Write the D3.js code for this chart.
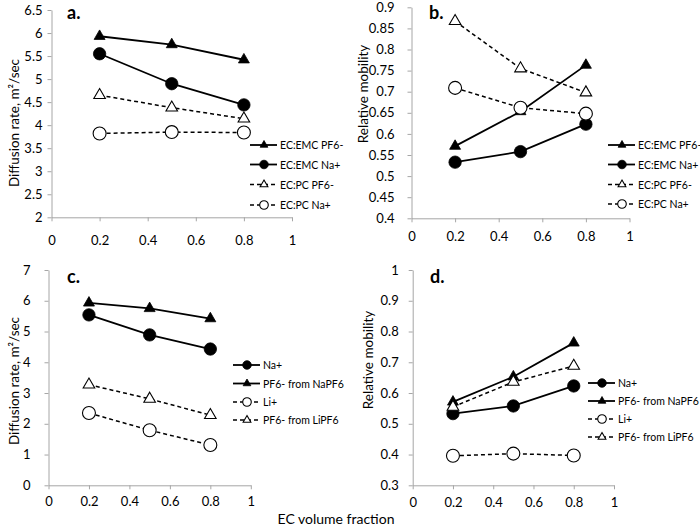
<!DOCTYPE html>
<html><head><meta charset="utf-8">
<script src="https://cdn.jsdelivr.net/npm/d3@7"></script>
<style>body{margin:0;background:#fff} text{font-family:Lato,"Open Sans",sans-serif;fill:#000}</style>
</head><body><svg id="c" width="700" height="527"></svg>
<script>
// ---------- data ----------
const xValues = [0.2, 0.5, 0.8];
const xTicks = [0, 0.2, 0.4, 0.6, 0.8, 1];
const xTickLabels = ["0", "0.2", "0.4", "0.6", "0.8", "1"];
const xTitle = "EC volume fraction";

// panel a
const aTicks = [2, 2.5, 3, 3.5, 4, 4.5, 5, 5.5, 6, 6.5];
const aTickLabels = ["2", "2.5", "3", "3.5", "4", "4.5", "5", "5.5", "6", "6.5"];
const aNames = ["EC:EMC PF6-", "EC:EMC Na+", "EC:PC PF6-", "EC:PC Na+"];
const aEmcPF6 = [5.93, 5.75, 5.42];
const aEmcNa = [5.55, 4.90, 4.44];
const aPcPF6 = [4.65, 4.38, 4.14];
const aPcNa = [3.82, 3.85, 3.84];

// panel b
const bTicks = [0.4, 0.45, 0.5, 0.55, 0.6, 0.65, 0.7, 0.75, 0.8, 0.85, 0.9];
const bTickLabels = ["0.4", "0.45", "0.5", "0.55", "0.6", "0.65", "0.7", "0.75", "0.8", "0.85", "0.9"];
const bNames = ["EC:EMC PF6-", "EC:EMC Na+", "EC:PC PF6-", "EC:PC Na+"];
const bEmcPF6 = [0.571, 0.653, 0.763];
const bEmcNa = [0.533, 0.558, 0.623];
const bPcPF6 = [0.867, 0.755, 0.698];
const bPcNa = [0.709, 0.662, 0.648];

// panel c
const cTicks = [0, 1, 2, 3, 4, 5, 6, 7];
const cTickLabels = ["0", "1", "2", "3", "4", "5", "6", "7"];
const cNames = ["Na+", "PF6- from NaPF6", "Li+", "PF6- from LiPF6"];
const cNa = [5.54, 4.89, 4.43];
const cPF6Na = [5.93, 5.75, 5.42];
const cLi = [2.35, 1.79, 1.31];
const cPF6Li = [3.27, 2.81, 2.28];

// panel d
const dTicks = [0.3, 0.4, 0.5, 0.6, 0.7, 0.8, 0.9, 1];
const dTickLabels = ["0.3", "0.4", "0.5", "0.6", "0.7", "0.8", "0.9", "1"];
const dNames = ["Na+", "PF6- from NaPF6", "Li+", "PF6- from LiPF6"];
const dNa = [0.533, 0.558, 0.623];
const dPF6Na = [0.571, 0.653, 0.763];
const dLi = [0.396, 0.403, 0.397];
const dPF6Li = [0.555, 0.636, 0.688];

// ---------- styles ----------
const ST = {
  solidTri: {shape: "tri", fill: true, dash: false},
  solidCirc: {shape: "circ", fill: true, dash: false},
  dashTri: {shape: "tri", fill: false, dash: true},
  dashCirc: {shape: "circ", fill: false, dash: true}
};

const panels = [
  {label: "a.", lx: 67, ly: 19, left: 51.5, right: 292, top: 10, bottom: 217.3,
   domain: [2, 6.5], ticks: aTicks, tickLabels: aTickLabels, yGap: 5, xOff: 22,
   ytitle: "Diffusion rate, m²/sec", tx: 14, ty: 123,
   series: [[aEmcPF6, ST.solidTri], [aEmcNa, ST.solidCirc], [aPcPF6, ST.dashTri], [aPcNa, ST.dashCirc]],
   names: aNames, legX: 250, legY: [145, 164.5, 184.5, 205]},
  {label: "b.", lx: 429, ly: 19, left: 411.5, right: 629.5, top: 7.3, bottom: 218.3,
   domain: [0.4, 0.9], ticks: bTicks, tickLabels: bTickLabels, yGap: 13, xOff: 17,
   ytitle: "Relative mobility", tx: 363, ty: 94,
   series: [[bEmcPF6, ST.solidTri], [bEmcNa, ST.solidCirc], [bPcPF6, ST.dashTri], [bPcNa, ST.dashCirc]],
   names: bNames, legX: 608, legY: [145, 164.5, 184.5, 204]},
  {label: "c.", lx: 67, ly: 283, left: 48.5, right: 250.8, top: 270, bottom: 485.3,
   domain: [0, 7], ticks: cTicks, tickLabels: cTickLabels, yGap: 14, xOff: 15.5,
   ytitle: "Diffusion rate, m²/sec", tx: 14, ty: 381,
   series: [[cNa, ST.solidCirc], [cPF6Na, ST.solidTri], [cLi, ST.dashCirc], [cPF6Li, ST.dashTri]],
   names: cNames, legX: 233, legY: [365, 383.5, 402, 420]},
  {label: "d.", lx: 430, ly: 283, left: 412.7, right: 614, top: 270, bottom: 485.3,
   domain: [0.3, 1], ticks: dTicks, tickLabels: dTickLabels, yGap: 10, xOff: 16.5,
   ytitle: "Relative mobility", tx: 368, ty: 360,
   series: [[dNa, ST.solidCirc], [dPF6Na, ST.solidTri], [dLi, ST.dashCirc], [dPF6Li, ST.dashTri]],
   names: dNames, legX: 588, legY: [383, 401, 419, 437]}
];

const svg = d3.select("#c");
const axisColor = "#a6a6a6";

function marker(sel, st, big) {
  const area = st.shape === "tri" ? (big ? (st.fill ? 52 : 58) : 26) : (big ? (st.fill ? 120 : 132) : 58);
  const type = st.shape === "tri" ? d3.symbolTriangle : d3.symbolCircle;
  sel.attr("d", d3.symbol().type(type).size(area))
    .attr("fill", st.fill ? "#000" : "#fff")
    .attr("stroke", "#000")
    .attr("stroke-width", st.fill ? 0.8 : 1.1);
}

panels.forEach(p => {
  const x = d3.scaleLinear().domain([0, 1]).range([p.left, p.right]);
  const y = d3.scaleLinear().domain(p.domain).range([p.bottom, p.top]);
  const g = svg.append("g");

  const ya = g.append("g").attr("transform", `translate(${p.left},0)`)
    .call(d3.axisLeft(y).tickValues(p.ticks).tickFormat((d, i) => p.tickLabels[i])
      .tickSize(4).tickSizeOuter(0).tickPadding(p.yGap));
  const xa = g.append("g").attr("transform", `translate(0,${p.bottom})`)
    .call(d3.axisBottom(x).tickValues(xTicks).tickFormat((d, i) => xTickLabels[i])
      .tickSize(4).tickSizeOuter(0).tickPadding(p.xOff - 8));
  [ya, xa].forEach(a => {
    a.select(".domain").attr("stroke", axisColor);
    a.selectAll(".tick line").attr("stroke", axisColor);
    a.selectAll(".tick text").attr("font-size", 13).attr("font-family", "Lato").attr("fill", "#000");
  });

  g.append("text").attr("x", p.lx).attr("y", p.ly).attr("font-size", 18)
    .attr("font-weight", "bold").text(p.label);

  g.append("text").attr("transform", `translate(${p.tx},${p.ty}) rotate(-90)`)
    .attr("text-anchor", "middle").attr("dominant-baseline", "central")
    .attr("font-size", 13.5).text(p.ytitle);

  const line = d3.line().x((d, i) => x(xValues[i])).y(d => y(d));
  p.series.forEach(([vals, st]) => {
    g.append("path").attr("d", line(vals)).attr("fill", "none").attr("stroke", "#000")
      .attr("stroke-width", st.dash ? 1.5 : 1.8)
      .attr("stroke-dasharray", st.dash ? "4,3" : null);
  });
  p.series.forEach(([vals, st]) => {
    g.selectAll(null).data(vals).enter().append("path")
      .attr("transform", (d, i) => `translate(${x(xValues[i])},${y(d)})`)
      .call(marker, st, true);
  });

  p.series.forEach(([vals, st], k) => {
    const ly = p.legY[k];
    g.append("line").attr("x1", p.legX).attr("x2", p.legX + 27).attr("y1", ly).attr("y2", ly)
      .attr("stroke", "#000").attr("stroke-width", st.dash ? 1.5 : 1.8)
      .attr("stroke-dasharray", st.dash ? "4,3" : null);
    g.append("path").attr("transform", `translate(${p.legX + 14},${ly})`).call(marker, st, false);
    g.append("text").attr("x", p.legX + 30).attr("y", ly).attr("dominant-baseline", "central")
      .attr("font-size", 10.5).text(p.names[k]);
  });
});

svg.append("text").attr("x", 336).attr("y", 524).attr("text-anchor", "middle")
  .attr("font-size", 14).text(xTitle);
</script></body></html>
